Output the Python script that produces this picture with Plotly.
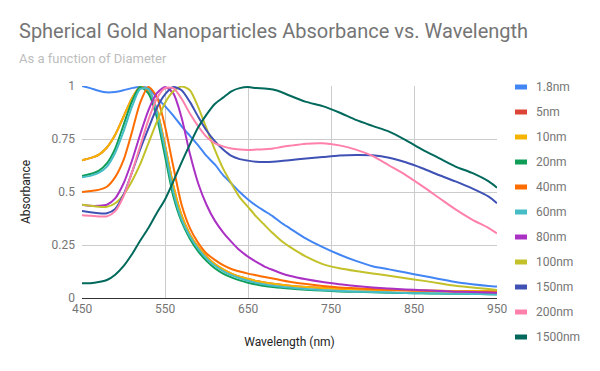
import plotly.graph_objects as go

# Wavelength (nm) sampling used for all series
wavelength = [450, 460, 470, 480, 490, 500, 510, 520, 530, 540, 550, 560, 570, 580, 590,
              600, 610, 620, 630, 640, 650, 660, 670, 680, 690, 700,
              720, 740, 760, 780, 800, 820, 840, 860, 880, 900, 920, 940, 950]

series_names = ["1.8nm", "5nm", "10nm", "20nm", "40nm", "60nm", "80nm", "100nm", "150nm", "200nm", "1500nm"]

abs_1_8nm = [1.0, 0.99, 0.978, 0.97, 0.972, 0.98, 0.99, 0.995, 0.99, 0.945, 0.905, 0.86, 0.81, 0.765, 0.72,
             0.67, 0.63, 0.58, 0.54, 0.50, 0.465, 0.435, 0.41, 0.385, 0.355, 0.33,
             0.28, 0.24, 0.205, 0.175, 0.15, 0.135, 0.12, 0.105, 0.09, 0.075, 0.065, 0.057, 0.054]
abs_5nm = [0.65, 0.66, 0.675, 0.71, 0.77, 0.855, 0.94, 0.995, 0.98, 0.89, 0.72, 0.53, 0.39, 0.30, 0.24,
           0.195, 0.16, 0.135, 0.115, 0.10, 0.09, 0.08, 0.073, 0.067, 0.062, 0.058,
           0.052, 0.047, 0.044, 0.041, 0.039, 0.037, 0.036, 0.035, 0.034, 0.033, 0.033, 0.032, 0.032]
abs_10nm = [0.65, 0.66, 0.675, 0.71, 0.77, 0.855, 0.94, 0.995, 0.98, 0.89, 0.72, 0.53, 0.39, 0.30, 0.24,
            0.195, 0.16, 0.135, 0.115, 0.10, 0.09, 0.08, 0.073, 0.067, 0.062, 0.058,
            0.052, 0.047, 0.044, 0.041, 0.039, 0.037, 0.036, 0.035, 0.034, 0.033, 0.033, 0.032, 0.032]
abs_20nm = [0.575, 0.585, 0.60, 0.635, 0.705, 0.815, 0.925, 0.995, 0.965, 0.855, 0.67, 0.48, 0.36, 0.28, 0.22,
            0.175, 0.14, 0.115, 0.097, 0.083, 0.072, 0.064, 0.057, 0.052, 0.048, 0.045,
            0.039, 0.035, 0.031, 0.029, 0.027, 0.025, 0.023, 0.022, 0.021, 0.02, 0.019, 0.018, 0.018]
abs_40nm = [0.50, 0.505, 0.51, 0.525, 0.57, 0.65, 0.78, 0.92, 0.995, 0.95, 0.81, 0.62, 0.44, 0.33, 0.26,
            0.21, 0.18, 0.155, 0.137, 0.125, 0.115, 0.107, 0.099, 0.092, 0.084, 0.077,
            0.066, 0.057, 0.05, 0.046, 0.042, 0.039, 0.036, 0.034, 0.032, 0.03, 0.029, 0.028, 0.027]
abs_60nm = [0.57, 0.576, 0.59, 0.62, 0.685, 0.785, 0.90, 0.985, 0.985, 0.88, 0.70, 0.50, 0.37, 0.29, 0.232,
            0.187, 0.152, 0.127, 0.108, 0.093, 0.081, 0.071, 0.064, 0.058, 0.053, 0.049,
            0.042, 0.037, 0.033, 0.03, 0.028, 0.026, 0.024, 0.022, 0.021, 0.02, 0.019, 0.018, 0.017]
abs_80nm = [0.44, 0.435, 0.435, 0.44, 0.47, 0.54, 0.645, 0.77, 0.885, 0.965, 0.995, 0.965, 0.85, 0.68, 0.54,
            0.44, 0.365, 0.31, 0.265, 0.225, 0.195, 0.17, 0.148, 0.132, 0.117, 0.105,
            0.088, 0.075, 0.065, 0.057, 0.05, 0.045, 0.04, 0.037, 0.033, 0.03, 0.028, 0.026, 0.025]
abs_100nm = [0.44, 0.435, 0.43, 0.43, 0.447, 0.487, 0.55, 0.63, 0.73, 0.83, 0.92, 0.975, 0.998, 0.98, 0.90,
             0.80, 0.70, 0.61, 0.54, 0.475, 0.43, 0.384, 0.344, 0.305, 0.27, 0.242,
             0.195, 0.16, 0.14, 0.127, 0.116, 0.105, 0.093, 0.082, 0.07, 0.058, 0.05, 0.042, 0.038]
abs_150nm = [0.41, 0.405, 0.40, 0.40, 0.42, 0.487, 0.59, 0.70, 0.80, 0.895, 0.96, 0.995, 0.98, 0.925, 0.855,
             0.79, 0.74, 0.70, 0.67, 0.655, 0.648, 0.643, 0.642, 0.643, 0.646, 0.65,
             0.658, 0.665, 0.672, 0.675, 0.673, 0.662, 0.64, 0.612, 0.58, 0.55, 0.517, 0.478, 0.447]
abs_200nm = [0.39, 0.388, 0.385, 0.385, 0.41, 0.48, 0.59, 0.715, 0.84, 0.94, 0.99, 0.99, 0.94, 0.87, 0.81,
             0.76, 0.73, 0.715, 0.705, 0.70, 0.698, 0.70, 0.702, 0.705, 0.712, 0.718,
             0.728, 0.73, 0.72, 0.70, 0.67, 0.625, 0.58, 0.528, 0.473, 0.418, 0.37, 0.33, 0.305]
abs_1500nm = [0.07, 0.07, 0.075, 0.085, 0.11, 0.15, 0.205, 0.27, 0.33, 0.40, 0.465, 0.55, 0.64, 0.725, 0.805,
              0.865, 0.915, 0.945, 0.975, 0.99, 0.995, 0.99, 0.988, 0.983, 0.972, 0.955,
              0.925, 0.905, 0.875, 0.84, 0.812, 0.785, 0.745, 0.70, 0.66, 0.62, 0.59, 0.55, 0.52]

all_series = [abs_1_8nm, abs_5nm, abs_10nm, abs_20nm, abs_40nm, abs_60nm,
              abs_80nm, abs_100nm, abs_150nm, abs_200nm, abs_1500nm]

colors = ["#4285F4", "#DB4437", "#F4B400", "#0F9D58", "#FF6D00", "#46BDC6",
          "#AB30C4", "#C2C12A", "#3F51B5", "#FF80AB", "#00695C"]

x_ticks = [450, 550, 650, 750, 850, 950]
y_ticks = [0, 0.25, 0.5, 0.75, 1]
y_tick_text = ["0", "0.25", "0.5", "0.75", "1"]

FONT = "Roboto, Arial, sans-serif"

fig = go.Figure()
for name, vals, col in zip(series_names, all_series, colors):
    fig.add_trace(go.Scatter(
        x=wavelength, y=vals, name=name, mode="lines",
        line=dict(color=col, width=2, shape="spline", smoothing=0.7),
        showlegend=False,
    ))

# plot area in pixels: x 82..497, y 86..298
L, R, T, B = 82, 497, 86, 298
W, H = 600, 371


def px_x(p):
    return (p - L) / (R - L)


def px_y(p):
    return (B - p) / (B - T)


shapes = []
annotations = []
# custom legend
for i, (name, col) in enumerate(zip(series_names, colors)):
    cy = 87 + 25 * i
    shapes.append(dict(type="rect", xref="paper", yref="paper",
                       x0=px_x(515), x1=px_x(527), y0=px_y(cy + 2.5), y1=px_y(cy - 2.5),
                       fillcolor=col, line=dict(width=0)))
    annotations.append(dict(xref="paper", yref="paper", x=px_x(534), y=px_y(cy),
                            xanchor="left", yanchor="middle", showarrow=False,
                            text=name, font=dict(family=FONT, size=12, color="#757575")))

# title & subtitle
annotations.append(dict(xref="paper", yref="paper", x=px_x(17), y=px_y(31),
                        xanchor="left", yanchor="middle", showarrow=False,
                        text="Spherical Gold Nanoparticles Absorbance vs. Wavelength",
                        font=dict(family=FONT, size=20, color="#757575")))
annotations.append(dict(xref="paper", yref="paper", x=px_x(17), y=px_y(58),
                        xanchor="left", yanchor="middle", showarrow=False,
                        text="As a function of Diameter",
                        font=dict(family=FONT, size=13, color="#BDBDBD")))

fig.update_layout(
    width=W, height=H,
    margin=dict(l=L, r=W - R, t=T, b=H - B, pad=0),
    paper_bgcolor="white", plot_bgcolor="white",
    font=dict(family=FONT, size=12, color="#757575"),
    showlegend=False,
    hovermode=False,
    shapes=shapes,
    annotations=annotations,
    xaxis=dict(range=[450, 950], tickvals=x_ticks, ticktext=[str(v) for v in x_ticks],
               showgrid=True, gridcolor="#CCCCCC", gridwidth=1, zeroline=False,
               showline=True, linecolor="#333333", linewidth=1,
               ticks="", tickfont=dict(family=FONT, size=12, color="#757575"),
               title=dict(text="Wavelength (nm)", standoff=22,
                          font=dict(family=FONT, size=12, color="#222222"))),
    yaxis=dict(range=[0, 1], tickvals=y_ticks, ticktext=y_tick_text,
               showgrid=True, gridcolor="#CCCCCC", gridwidth=1, zeroline=False,
               showline=False, ticks="", ticklabelstandoff=6,
               tickfont=dict(family=FONT, size=12, color="#757575"),
               title=dict(text="Absorbance", standoff=18,
                          font=dict(family=FONT, size=12, color="#222222"))),
)

fig.write_html("out.html", config={"displayModeBar": False},
               post_script="document.body.style.margin='0';")
